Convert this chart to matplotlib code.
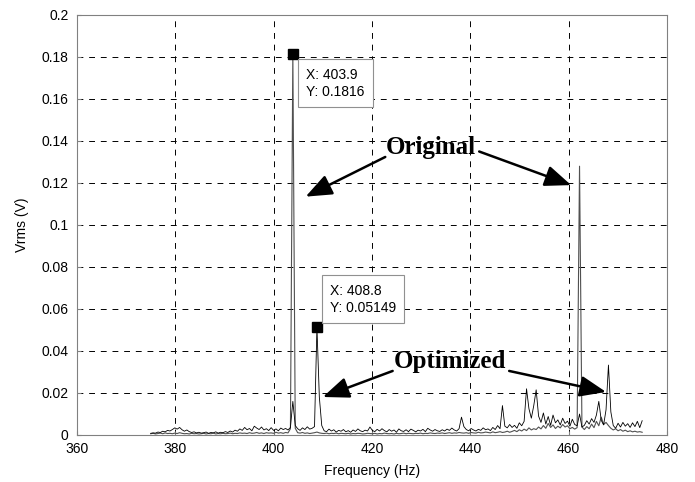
import numpy as np
import matplotlib
matplotlib.use("Agg")
import matplotlib.pyplot as plt

# ---- data (values in mV), frequency grid: start + step*k ----
freq_start = 374.99
freq_step = 0.49

original_mv = [
    0.6, 0.8, 0.5, 0.7, 0.9, 0.6, 1.0, 0.7, 0.8, 0.6,
    0.9, 0.7, 1.1, 0.8, 0.6, 0.7, 0.5, 0.8, 0.6, 0.7,
    0.5, 0.6, 0.8, 0.5, 0.7, 0.6, 0.9, 0.5, 0.7, 0.6,
    0.8, 0.6, 0.7, 0.9, 0.6, 0.8, 0.7, 1.0, 0.8, 0.9,
    0.7, 1.1, 0.8, 0.9, 1.2, 0.8, 1.0, 0.7, 1.1, 0.9,
    1.0, 0.8, 1.3, 0.9, 1.1, 0.8, 1.2, 1.0,
    3.0, 181.6, 3.2,
    1.1, 0.9, 1.2, 0.8, 1.0, 0.7, 0.9, 1.1, 1.4,
    1.0, 0.8, 0.7, 0.9, 0.6, 0.8, 0.7, 0.9, 0.6, 0.8,
    0.7, 0.6, 0.8, 0.5, 0.7, 0.6, 0.8, 0.7, 0.5, 0.6,
    0.8, 0.7, 0.6, 0.8, 0.5, 0.7, 0.6, 0.9, 0.7, 0.6,
    0.7, 0.5, 0.8, 0.6, 0.7, 0.9, 0.6, 0.8, 0.7, 0.6,
    0.8, 0.7, 0.9, 0.6, 0.8, 0.7, 1.0, 0.8, 0.7, 0.9,
    0.8, 1.0, 0.7, 0.9, 1.1, 0.8, 1.0, 0.9, 1.2, 1.0,
    0.9, 1.1, 0.8, 1.2, 1.0, 0.9, 1.3, 1.0, 1.1, 1.4,
    1.2, 1.0, 1.5, 1.1, 1.3, 1.6, 1.2, 1.4, 1.8, 1.3,
    1.7, 2.2, 1.6, 2.5, 1.9, 2.8, 2.1, 3.4, 2.4, 3.0,
    2.6, 3.8, 2.9, 4.5, 3.2, 5.5, 3.6, 4.8, 3.1, 4.2,
    3.4, 5.0, 3.8, 4.4, 3.0, 3.6, 2.8,
    3.5, 128.0, 3.8,
    2.6, 4.0, 3.0, 5.2, 3.5, 6.5, 4.4, 8.5, 5.0, 6.0,
    4.5, 3.2, 2.4, 3.0, 2.0, 2.6, 1.8, 2.3, 1.6, 2.0,
    1.5, 1.8, 1.4, 1.6, 1.3,
]

optimized_mv = [
    0.8, 1.0, 0.9, 1.4, 1.2, 1.8, 1.5, 2.2, 1.9, 2.6,
    3.4, 2.8, 3.6, 2.5, 1.8, 2.4, 1.6, 1.2, 1.5, 1.0,
    1.3, 0.9, 1.1, 1.4, 0.8, 1.2, 1.0, 1.5, 0.9, 1.3,
    1.1, 1.6, 1.2, 1.9, 1.4, 2.3, 1.8, 2.9, 2.2, 3.6,
    2.5, 3.1, 2.0, 4.2, 3.3, 2.6, 3.8, 2.4, 3.0, 2.1,
    3.5, 2.2, 2.9, 2.0, 3.3, 2.6, 3.1, 2.4, 3.6,
    16.0, 4.5, 3.0, 2.2, 3.4, 2.6, 3.9, 2.8, 3.2, 4.0,
    51.49, 18.0, 4.5, 2.0,
    1.6, 2.8, 1.9, 2.5, 1.4, 2.2, 1.8,
    2.6, 1.5, 2.1, 1.3, 2.4, 1.7, 2.9, 2.0, 1.6, 2.3,
    1.9, 3.8, 2.2, 1.6, 2.7, 1.9, 3.0, 2.1, 1.5, 2.6,
    1.8, 2.4, 1.3, 2.9, 2.0, 1.7, 2.5, 1.6, 2.8, 2.2,
    1.5, 2.3, 1.9, 2.7, 1.6, 3.2, 2.4, 1.8, 2.6, 2.0,
    1.7, 2.5, 1.9, 2.8, 2.2, 3.3, 2.4, 1.9, 3.0, 8.5,
    4.0, 2.6, 2.0, 3.1, 2.4, 1.9, 2.7, 2.2, 3.4, 2.5,
    2.9, 2.1, 3.6, 2.6, 4.5, 3.0, 14.0, 4.2, 3.4, 5.0,
    3.6, 4.6, 3.2, 5.8, 4.4, 6.5, 22.0, 12.5, 8.0, 14.0,
    21.5, 9.0, 6.0, 10.5, 5.2, 8.8, 4.6, 9.5, 5.8, 7.2,
    4.8, 8.0, 5.5, 6.6, 4.2, 7.5, 5.0, 4.4, 10.0, 3.8,
    4.6, 6.8, 5.2, 7.8, 6.0, 9.5, 16.0, 7.0, 4.8, 12.0,
    33.3, 11.0, 4.5, 3.2, 5.6, 3.8, 6.0, 4.2, 5.4, 3.6,
    5.8, 4.0, 6.5, 3.5, 6.8,
]

x_ticks = [360, 380, 400, 420, 440, 460, 480]
y_ticks = [0, 0.02, 0.04, 0.06, 0.08, 0.1, 0.12, 0.14, 0.16, 0.18, 0.2]
tip_idx_original = 59
tip_idx_optimized = 69

orig = np.array(original_mv) / 1000.0
opt = np.array(optimized_mv) / 1000.0
f_orig = freq_start + freq_step * np.arange(len(orig))
f_opt = freq_start + freq_step * np.arange(len(opt))

plt.rcParams['font.family'] = ['Liberation Sans', 'DejaVu Sans']

fig = plt.figure(figsize=(6.95, 4.82), dpi=100)
ax = fig.add_axes([77/695, 47/482, 590/695, 420/482])

ax.plot(f_orig, orig, color='#505050', lw=0.8, zorder=3)
ax.plot(f_opt, opt, color='black', lw=0.6, zorder=4)

ax.set_xlim(360, 480)
ax.set_ylim(0, 0.2)
ax.set_xticks(x_ticks)
ax.set_yticks(y_ticks)
ax.set_yticklabels([f"{v:g}" for v in y_ticks])
ax.tick_params(direction='in', length=3, color='#808080', labelsize=10, pad=6)
ax.tick_params(axis='x', pad=5)
for s in ax.spines.values():
    s.set_color('#808080')
    s.set_linewidth(0.8)
ax.grid(True, color='black', linestyle=(0, (6, 6)), linewidth=0.7)
ax.set_axisbelow(True)

ax.set_xlabel('Frequency (Hz)', fontsize=10, labelpad=6)
ax.set_ylabel('Vrms (V)', fontsize=10, labelpad=9)

# data tips
for idx, f, v, off, va in [(tip_idx_original, f_orig, orig, (13, -14), 'top'),
                           (tip_idx_optimized, f_opt, opt, (13, 12), 'bottom')]:
    x, y = f[idx], v[idx]
    ax.plot([x], [y], marker='s', color='black', markersize=7, zorder=6,
            clip_on=False)
    ax.annotate(f"X: {x:.1f}\nY: {y:.4g}", xy=(x, y), xytext=off,
                textcoords='offset pixels', ha='left', va=va, fontsize=10,
                linespacing=1.3,
                bbox=dict(boxstyle='square,pad=0.6', fc='white', ec='#909090',
                          lw=0.8), zorder=7)

serif = dict(family=['Liberation Serif', 'DejaVu Serif'], fontweight='bold',
             fontsize=18)
ax.text(431.9, 0.1367, 'Original', ha='center', va='center', zorder=8, **serif)
ax.text(435.9, 0.0348, 'Optimized', ha='center', va='center', zorder=8, **serif)

aprops = dict(arrowstyle='-|>,head_length=0.8,head_width=0.32', lw=1.8,
              color='black', mutation_scale=20, shrinkA=0, shrinkB=0)
for start, tip in [((422.7, 0.1324), (406.5, 0.1135)),
                   ((441.8, 0.1350), (460.5, 0.1190)),
                   ((424.2, 0.0305), (410.0, 0.0181)),
                   ((447.9, 0.0305), (467.6, 0.0205))]:
    ax.annotate('', xy=tip, xytext=start, arrowprops=aprops, zorder=8)

fig.savefig('out.png', dpi=100)
